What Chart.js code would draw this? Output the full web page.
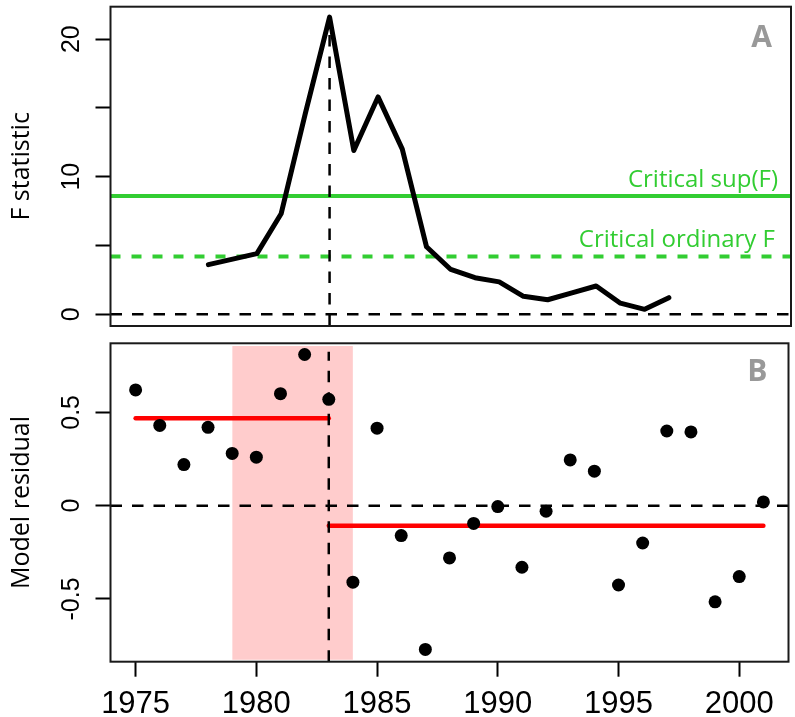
<!DOCTYPE html>
<html>
<head>
<meta charset="utf-8">
<title>Structural break: F statistic and model residual</title>
<script src="https://cdn.jsdelivr.net/npm/chart.js@4.4.1/dist/chart.umd.min.js"></script>
<style>
  html, body { margin: 0; padding: 0; background: #fff; }
  #wrap { position: relative; width: 795px; height: 717px; }
  #fChart { position: absolute; left: 0; top: 0; }
  #residChart { position: absolute; left: 0; top: 336px; }
</style>
</head>
<body>
<div id="wrap">
  <canvas id="fChart" width="795" height="336"></canvas>
  <canvas id="residChart" width="795" height="381"></canvas>
</div>
<script>

// ==========================
// Data
// ==========================

const xRange = [1973.96, 2002.04];
const xTicks = [1975, 1980, 1985, 1990, 1995, 2000];

// panel A
const fYears = [1978, 1979, 1980, 1981, 1982, 1983, 1984, 1985, 1986, 1987,
                1988, 1989, 1990, 1991, 1992, 1993, 1994, 1995, 1996, 1997];
const fStat = [3.6, 4.0, 4.4, 7.3, 14.6, 21.6, 11.9, 15.8, 12.0, 4.9,
               3.25, 2.65, 2.35, 1.3, 1.05, 1.55, 2.05, 0.8, 0.35, 1.2];
const critSup = 8.6;
const critOrdinary = 4.2;
const fRange = [-0.86, 22.36];
const fTicks = [0, 5, 10, 15, 20];
const fTickLabels = ["0", "", "10", "", "20"];

// panel B
const residYears = [1975, 1976, 1977, 1978, 1979, 1980, 1981, 1982, 1983, 1984,
                    1985, 1986, 1987, 1988, 1989, 1990, 1991, 1992, 1993, 1994,
                    1995, 1996, 1997, 1998, 1999, 2000, 2001];
const residuals = [0.62, 0.43, 0.22, 0.42, 0.28, 0.26, 0.60, 0.81, 0.57, -0.41,
                   0.415, -0.16, -0.77, -0.28, -0.095, -0.005, -0.33, -0.03, 0.245, 0.185,
                   -0.425, -0.20, 0.40, 0.395, -0.515, -0.38, 0.02];
const breakYear = 1983;
const segmentStarts = [1975, 1983];
const segmentEnds = [1983, 2001];
const segmentMeans = [0.468, -0.107];
const breakInterval = [1979, 1984];
const residRange = [-0.836, 0.870];
const residTicks = [-0.5, 0, 0.5];
const residTickLabels = ["-0.5", "0", "0.5"];

// ==========================
// Shared helpers
// ==========================

const tickFont = { family: "'Liberation Sans', Arial, sans-serif", size: 25 };
const titleFont = { family: "'Open Sans', sans-serif", size: 25 };
const green = "#32CD32";
const dash = [11.5, 10];

const boxPlugin = {
    id: "box",
    afterDatasetsDraw(chart) {
        const a = chart.chartArea;
        const ctx = chart.ctx;
        ctx.save();
        ctx.strokeStyle = "#1a1a1a";
        ctx.lineWidth = 2;
        ctx.strokeRect(a.left, a.top, a.right - a.left, a.bottom - a.top);
        ctx.restore();
    }
};

function hLine(y, range) {
    return [{ x: range[0], y: y }, { x: range[1], y: y }];
}

function yAxis(min, max, ticks, labels, title, pad) {
    return {
        type: "linear",
        min: min,
        max: max,
        afterBuildTicks: s => { s.ticks = ticks.map(v => ({ value: v })); },
        afterFit: s => { s.width = 110.5; s.paddingTop = 0; s.paddingBottom = 0; },
        ticks: {
            callback: (v, i) => labels[i],
            minRotation: 90,
            maxRotation: 90,
            crossAlign: "center",
            padding: pad,
            font: tickFont,
            color: "#000"
        },
        grid: { drawOnChartArea: false, tickLength: 15, tickWidth: 2, tickColor: "#000" },
        border: { display: false },
        title: { display: true, text: title, font: titleFont, color: "#000", padding: { top: 7, bottom: 0 } }
    };
}

// ==========================
// Panel A: F statistic
// ==========================

const labelsA = {
    id: "labelsA",
    afterDatasetsDraw(chart) {
        const ctx = chart.ctx;
        const a = chart.chartArea;
        const y = chart.scales.y;
        ctx.save();
        ctx.textAlign = "right";
        ctx.textBaseline = "alphabetic";
        ctx.fillStyle = green;
        ctx.font = "24px 'Open Sans', sans-serif";
        ctx.fillText("Critical sup(F)", a.right - 13, y.getPixelForValue(critSup) - 9);
        ctx.fillText("Critical ordinary F", a.right - 16, y.getPixelForValue(critOrdinary) - 9);
        ctx.fillStyle = "#999999";
        ctx.font = "bold 30px 'Open Sans', sans-serif";
        ctx.fillText("A", a.right - 19, a.top + 40);
        ctx.restore();
    }
};

new Chart(document.getElementById("fChart"), {
    type: "line",
    data: {
        datasets: [
            {
                data: fYears.map((yr, i) => ({ x: yr, y: fStat[i] })),
                borderColor: "#000",
                borderWidth: 5,
                borderJoinStyle: "round",
                borderCapStyle: "round",
                pointRadius: 0,
                order: 1
            },
            {
                data: [{ x: breakYear, y: fRange[0] }, { x: breakYear, y: Math.max(...fStat) }],
                borderColor: "#000",
                borderWidth: 2.5,
                borderDash: dash,
                pointRadius: 0,
                order: 2
            },
            {
                data: hLine(critSup, xRange),
                borderColor: green,
                borderWidth: 4,
                pointRadius: 0,
                order: 3
            },
            {
                data: hLine(critOrdinary, xRange),
                borderColor: green,
                borderWidth: 4,
                borderDash: [10, 11],
                pointRadius: 0,
                order: 3
            },
            {
                data: hLine(0, xRange),
                borderColor: "#000",
                borderWidth: 2.5,
                borderDash: dash,
                pointRadius: 0,
                order: 4
            }
        ]
    },
    options: {
        responsive: false,
        animation: false,
        layout: { padding: { top: 6.7, right: 4, bottom: 10, left: 0 } },
        plugins: { legend: { display: false }, tooltip: { enabled: false } },
        scales: {
            x: { type: "linear", min: xRange[0], max: xRange[1], display: false },
            y: yAxis(fRange[0], fRange[1], fTicks, fTickLabels, "F statistic", 9)
        }
    },
    plugins: [boxPlugin, labelsA]
});

// ==========================
// Panel B: model residual
// ==========================

const labelsB = {
    id: "labelsB",
    afterDatasetsDraw(chart) {
        const ctx = chart.ctx;
        const a = chart.chartArea;
        ctx.save();
        ctx.textAlign = "right";
        ctx.textBaseline = "alphabetic";
        ctx.fillStyle = "#999999";
        ctx.font = "bold 30px 'Open Sans', sans-serif";
        ctx.fillText("B", a.right - 21, a.top + 37.4);
        ctx.restore();
    }
};

new Chart(document.getElementById("residChart"), {
    type: "line",
    data: {
        datasets: [
            {
                type: "scatter",
                data: residYears.map((yr, i) => ({ x: yr, y: residuals[i] })),
                backgroundColor: "#000",
                borderWidth: 0,
                pointRadius: 6.5,
                order: 1
            },
            {
                data: [{ x: segmentStarts[0], y: segmentMeans[0] }, { x: segmentEnds[0], y: segmentMeans[0] }],
                borderColor: "#FF0000",
                borderWidth: 4.5,
                borderCapStyle: "round",
                pointRadius: 0,
                order: 5
            },
            {
                data: [{ x: segmentStarts[1], y: segmentMeans[1] }, { x: segmentEnds[1], y: segmentMeans[1] }],
                borderColor: "#FF0000",
                borderWidth: 4.5,
                borderCapStyle: "round",
                pointRadius: 0,
                order: 5
            },
            {
                data: [{ x: breakYear, y: residRange[0] }, { x: breakYear, y: 0.825 }],
                borderColor: "#000",
                borderWidth: 2.5,
                borderDash: dash,
                pointRadius: 0,
                order: 4
            },
            {
                data: hLine(0, xRange),
                borderColor: "#000",
                borderWidth: 2.5,
                borderDash: dash,
                pointRadius: 0,
                order: 6
            },
            {
                data: [{ x: breakInterval[0], y: 0.856 }, { x: breakInterval[1], y: 0.856 }],
                borderWidth: 0,
                pointRadius: 0,
                backgroundColor: "#FFCCCC",
                fill: { value: -0.826 },
                order: 10
            }
        ]
    },
    options: {
        responsive: false,
        animation: false,
        layout: { padding: { top: 7.3, right: 3.5, bottom: 0, left: 0 } },
        plugins: { legend: { display: false }, tooltip: { enabled: false } },
        scales: {
            x: {
                type: "linear",
                position: "bottom",
                min: xRange[0],
                max: xRange[1],
                afterBuildTicks: s => { s.ticks = xTicks.map(v => ({ value: v })); },
                afterFit: s => { s.height = 55.3; s.paddingLeft = 0; s.paddingRight = 0; },
                ticks: {
                    callback: v => String(v),
                    maxRotation: 0,
                    autoSkip: false,
                    padding: 9,
                    font: { family: "'Liberation Sans', Arial, sans-serif", size: 31 },
                    color: "#000"
                },
                grid: { drawOnChartArea: false, tickLength: 15, tickWidth: 2, tickColor: "#000" },
                border: { display: false }
            },
            y: yAxis(residRange[0], residRange[1], residTicks, residTickLabels, "Model residual", 1.5)
        }
    },
    plugins: [boxPlugin, labelsB]
});

</script>
</body>
</html>
